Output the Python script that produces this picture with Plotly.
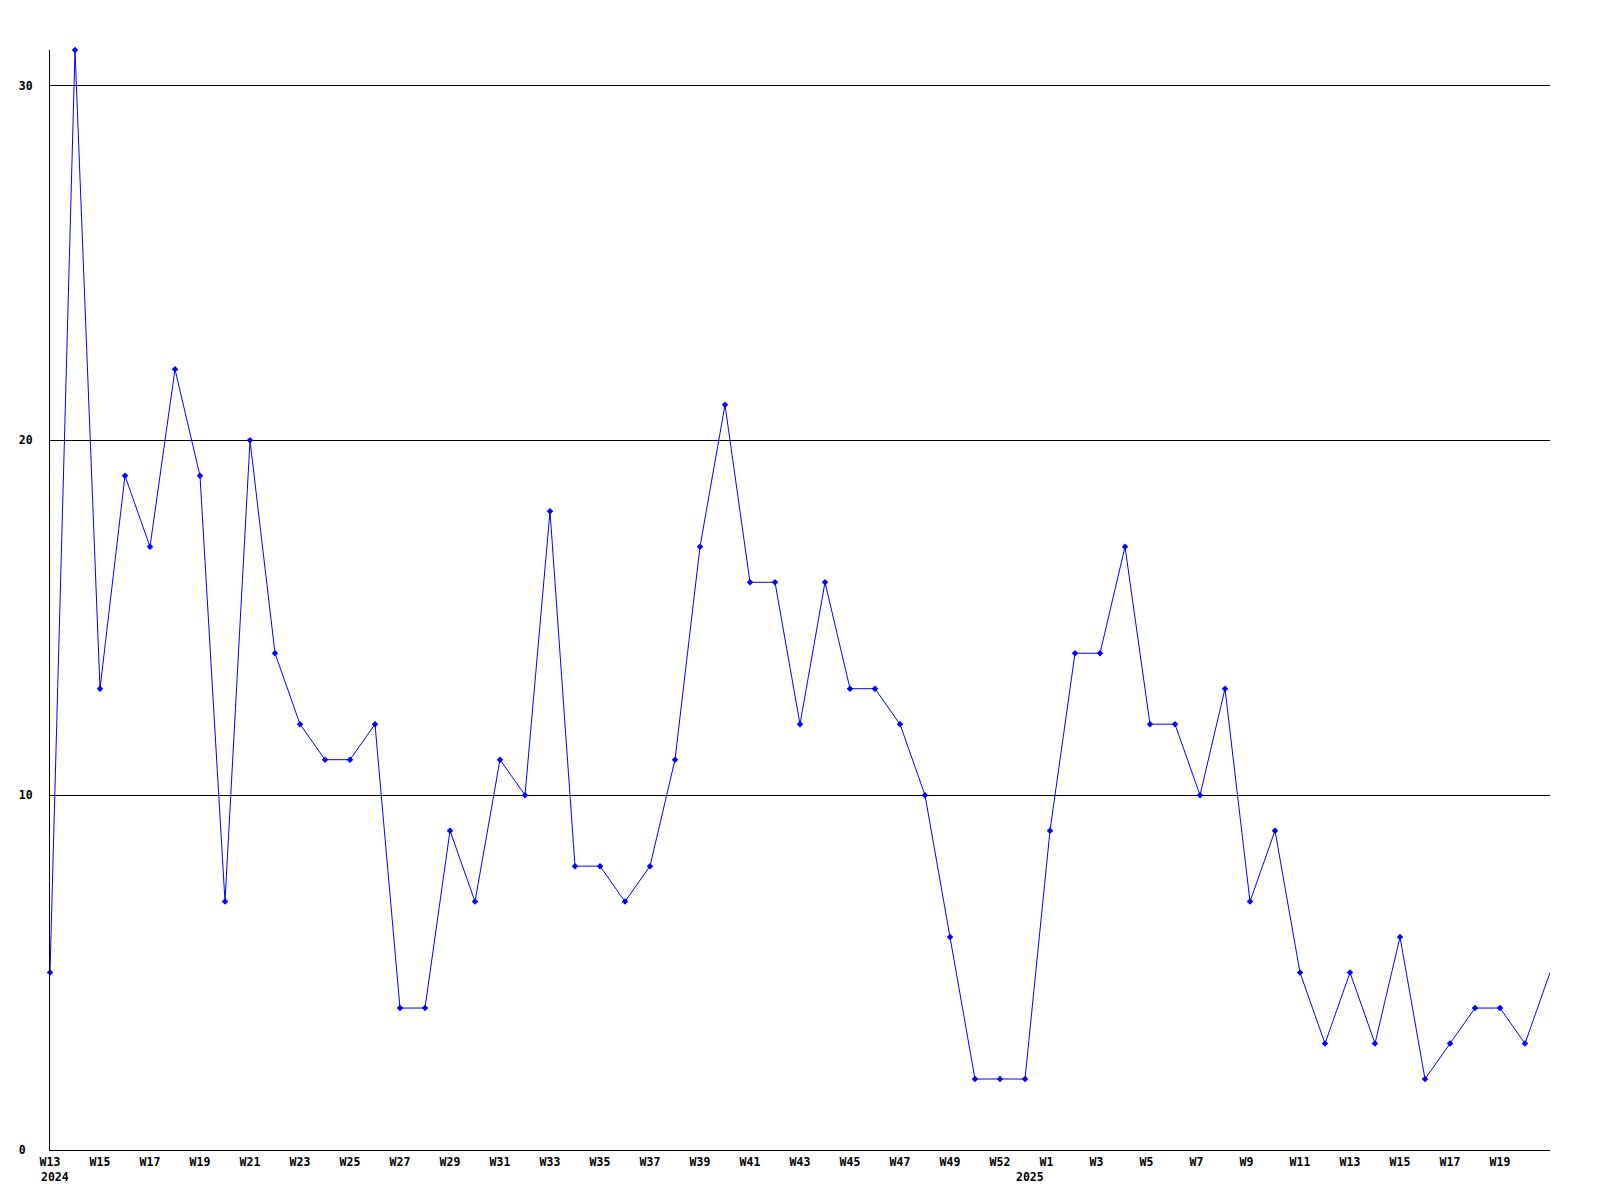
import plotly.graph_objects as go

# Weekly values, 2024 W13 .. 2025 W21
values = [5, 31, 13, 19, 17, 22, 19, 7, 20, 14,
          12, 11, 11, 12, 4, 4, 9, 7, 11, 10,
          18, 8, 8, 7, 8, 11, 17, 21, 16, 16,
          12, 16, 13, 13, 12, 10, 6, 2, 2, 2,
          9, 14, 14, 17, 12, 12, 10, 13, 7, 9,
          5, 3, 5, 3, 6, 2, 3, 4, 4, 3, 5]
x_idx = list(range(len(values)))

tick_pos = [0, 2, 4, 6, 8, 10, 12, 14, 16, 18, 20, 22, 24, 26, 28, 30, 32, 34, 36, 38,
            40, 42, 44, 46, 48, 50, 52, 54, 56, 58]
tick_labels = ["W13", "W15", "W17", "W19", "W21", "W23", "W25", "W27", "W29", "W31",
               "W33", "W35", "W37", "W39", "W41", "W43", "W45", "W47", "W49", "W52",
               "W1", "W3", "W5", "W7", "W9", "W11", "W13", "W15", "W17", "W19"]
year_pos = [0, 39]
year_labels = ["2024", "2025"]

y_ticks = [0, 10, 20, 30]

FONT = "DejaVu Sans Mono"
FS = 11.5

def pad3(s):
    return s + "\u00a0" * (3 - len(s))

marker_opacity = [1] * (len(values) - 1) + [0]

fig = go.Figure()
fig.add_trace(go.Scatter(
    x=x_idx, y=values, mode="lines+markers",
    line=dict(color="#0000ff", width=1),
    marker=dict(symbol="diamond", size=5, color="#0000ff", opacity=marker_opacity),
    cliponaxis=False,
    showlegend=False, hoverinfo="skip",
))

for xp, yl in zip(year_pos, year_labels):
    fig.add_annotation(x=xp, y=0, xref="x", yref="y", text="<b>%s</b>" % yl,
                       showarrow=False, xanchor="left", yanchor="top",
                       xshift=-11, yshift=-18,
                       font=dict(family=FONT, size=FS, color="black"))

fig.update_layout(
    width=1584, height=1184,
    margin=dict(l=42, r=42, t=42, b=42),
    paper_bgcolor="white", plot_bgcolor="white",
    font=dict(family=FONT, size=FS, color="black"),
    xaxis=dict(range=[0, 60], showgrid=False, zeroline=False,
               showline=True, linecolor="black", linewidth=1,
               tickmode="array", tickvals=tick_pos,
               ticktext=["<b>%s</b>" % pad3(t) for t in tick_labels],
               ticks="", ticklabelstandoff=1,
               tickfont=dict(family=FONT, size=FS, color="black")),
    yaxis=dict(range=[0, 31], showgrid=True, gridcolor="black", gridwidth=1,
               zeroline=False, showline=True, linecolor="black", linewidth=1,
               tickmode="array", tickvals=y_ticks,
               ticktext=["<b>%s</b>" % (str(v) + "\u00a0" * (2 - len(str(v)))) for v in y_ticks],
               ticks="", ticklabelstandoff=14,
               tickfont=dict(family=FONT, size=FS, color="black")),
)

fig.write_html("out.html")
